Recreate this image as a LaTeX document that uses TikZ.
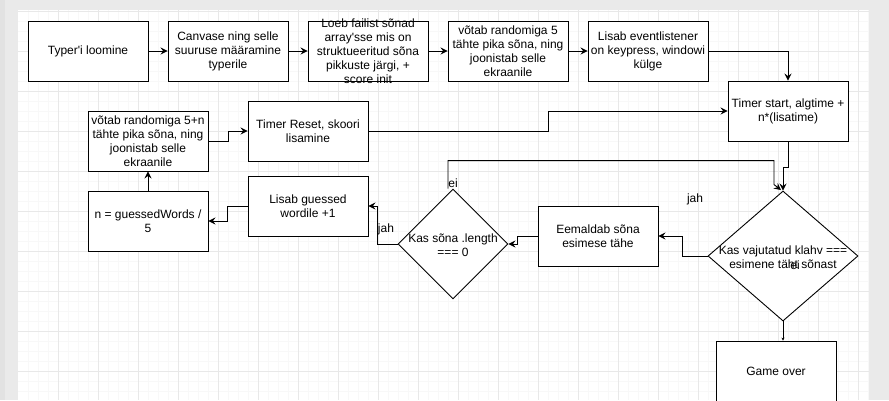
\documentclass[tikz,border=0pt]{standalone}
\usepackage{fontspec}
\setmainfont{Liberation Sans}
\usetikzlibrary{arrows.meta,shapes.geometric}
\definecolor{outergray}{HTML}{EAEAEA}
\definecolor{stripgray}{HTML}{E2E2E2}
\definecolor{minorgrid}{HTML}{F8F8F8}
\definecolor{majorgrid}{HTML}{E8E8E8}
\begin{document}
\begin{tikzpicture}[x=1pt,y=-1pt,
  txt/.style={align=center,font=\fontsize{12pt}{14pt}\selectfont,inner sep=0pt,text=black},
  stepbox/.style={txt,draw,fill=white,line width=0.9pt,minimum width=120pt,minimum height=60pt},
  decision/.style={diamond,draw,fill=white,line width=0.9pt,inner sep=0pt},
  lbl/.style={txt},
  arr/.style={-{Stealth[length=7pt,width=7pt,inset=2.5pt]},line width=0.9pt},
  mgrid/.style={draw=minorgrid,line width=0.8pt},
  Mgrid/.style={draw=majorgrid,line width=0.9pt}]
\useasboundingbox (0,0) rectangle (889,400);
\fill[outergray] (0,0) rectangle (889,400);
\fill[stripgray] (0,0) rectangle (5,400);
\fill[white] (18,10) rectangle (869,400);
\foreach \x in {28,38,...,868} \draw[mgrid] (\x,10) -- (\x,400);
\foreach \y in {21,31,...,399} \draw[mgrid] (18,\y) -- (869,\y);
\foreach \x in {58,98,...,858} \draw[Mgrid] (\x,10) -- (\x,400);
\foreach \y in {11,51,...,371} \draw[Mgrid] (18,\y) -- (869,\y);

% top row
\node[stepbox] (b1) at (88,51) {Typer\textquotesingle i loomine};
\node[stepbox] (b2) at (228,51) {Canvase ning selle\\suuruse määramine\\typerile};
\node[stepbox] (b3) at (368,51) {};
\node[txt] (b3t) at (b3) {Loeb failist sõnad\\array\textquotesingle sse mis on\\struktueeritud sõna\\pikkuste järgi, +\\score init};
\node[stepbox] (b4) at (508,51) {võtab randomiga 5\\tähte pika sõna, ning\\joonistab selle\\ekraanile};
\node[stepbox] (b5) at (648,51) {Lisab eventlistener\\on keypress, windowi\\külge};
\node[stepbox] (ts) at (788,111) {Timer start, algtime +\\n*(lisatime)};

% left part
\node[stepbox] (v5) at (148,141) {võtab randomiga 5+n\\tähte pika sõna, ning\\joonistab selle\\ekraanile};
\node[stepbox] (tr) at (308,131) {Timer Reset, skoori\\lisamine};
\node[stepbox] (nb) at (148,221) {n = guessedWords /\\5};
\node[stepbox] (lg) at (308,206) {Lisab guessed\\wordile +1};
\node[stepbox] (em) at (598,236) {Eemaldab sõna\\esimese tähe};

% decisions
\node[decision,minimum width=110pt,minimum height=110pt] (d1) at (453,244) {};
\node[txt] at (453,245) {Kas sõna .length\\=== 0};
\node[decision,minimum width=150pt,minimum height=130pt] (d2) at (783,256) {};
\node[txt] at (783,257) {Kas vajutatud klahv ===\\esimene täht sõnast};

\node[stepbox] (go) at (776,371) {Game over};

% connectors
\draw[arr] (b1) -- (b2);
\draw[arr] (b2) -- (b3);
\draw[arr] (b3) -- (b4);
\draw[arr] (b4) -- (b5);
\draw[arr] (b5.east) -| (ts.north);
\draw[arr] (ts.south) -- ++(0,26) -| (d2.north);
\draw[arr] ([xshift=-5pt]d1.north) |- ([xshift=-9pt,yshift=30pt]d2.north)
  -- ([xshift=-9pt,yshift=6pt]d2.north) -- ([xshift=-2pt,yshift=0.5pt]d2.north);
\draw[arr] (d2.west) -- ++(-25,0) |- (em.east);
\draw[arr] (em.west) -- ++(-20,0) |- (d1.east);
\draw[arr] (d1.west) -- ++(-20,0) |- (lg.east);
\draw[arr] (lg.west) -- ++(-20,0) |- (nb.east);
\draw[arr] (nb.north) -- (v5.south);
\draw[arr] (v5.east) -- ++(20,0) |- (tr.west);
\draw[arr] (tr.east) -- ++(180,0) |- (ts.west);
\draw[-{Stealth[length=3pt,width=3pt]},line width=0.9pt] (d2.south) -- (d2.south |- go.north);

% labels
\node[lbl] (ei1) at (453,183) {ei};
\node[lbl] (jah1) at (386,229) {jah};
\node[lbl] (jah2) at (695,199) {jah};
\node[lbl] (ei2) at (795,265) {ei};
\end{tikzpicture}
\end{document}
